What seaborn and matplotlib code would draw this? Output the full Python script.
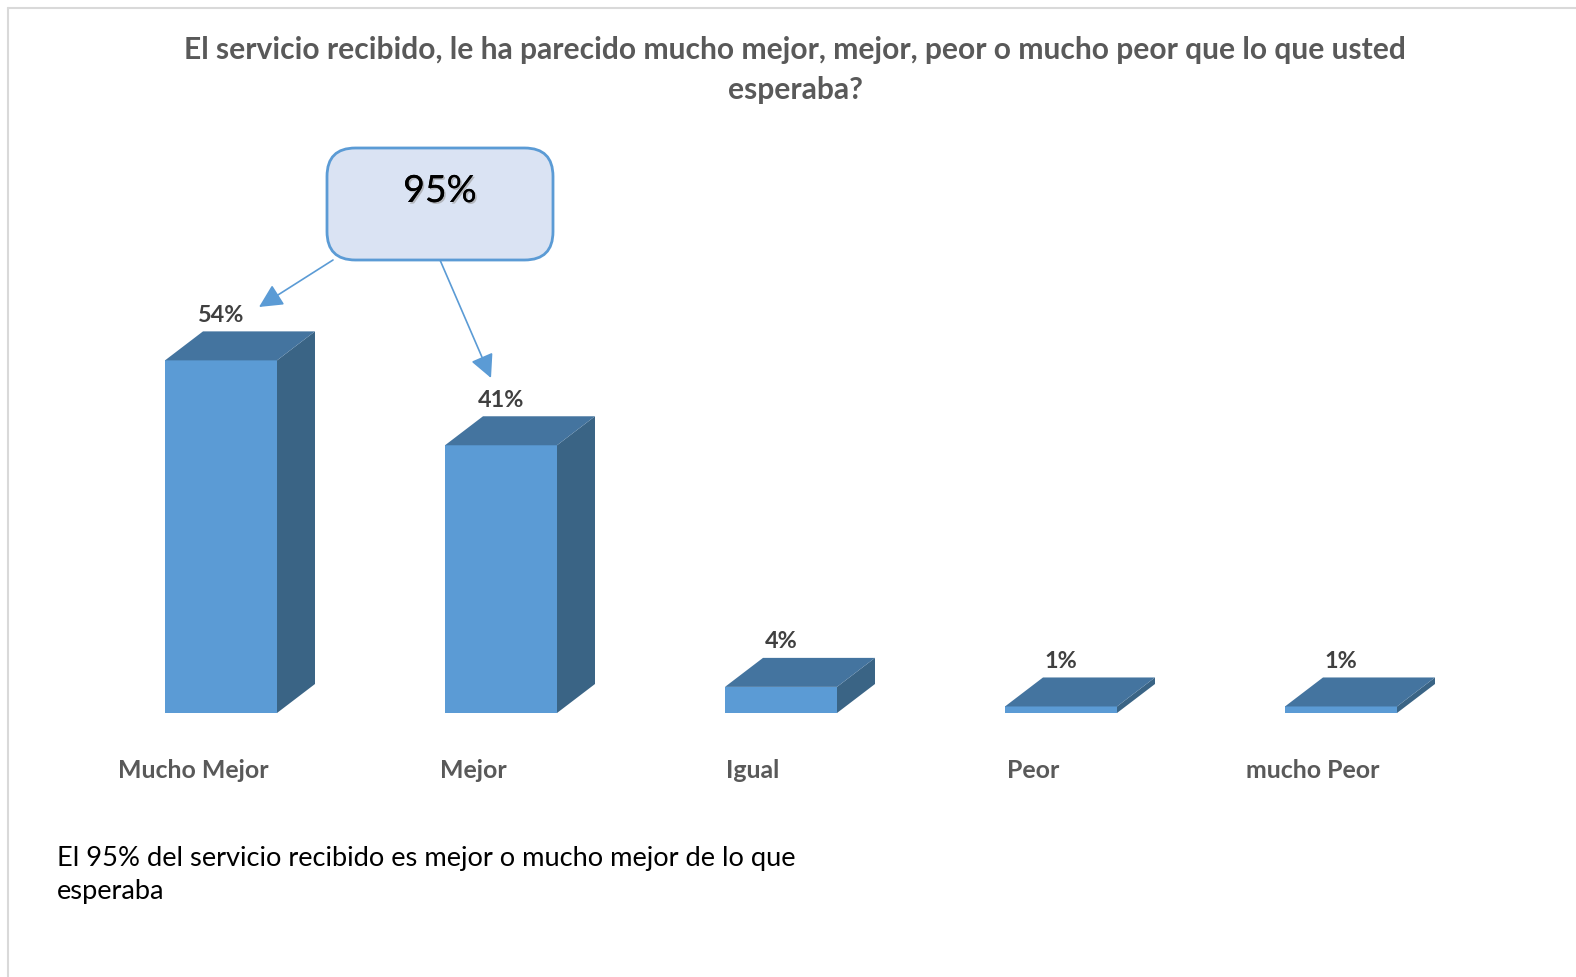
import matplotlib
matplotlib.use("Agg")
import matplotlib.pyplot as plt
import matplotlib.patheffects as pe
from matplotlib.patches import Polygon, FancyBboxPatch, FancyArrowPatch
from matplotlib.lines import Line2D
import seaborn as sns
import pandas as pd

# Survey answers and their shares (%)
categories = ["Mucho Mejor", "Mejor", "Igual", "Peor", "mucho Peor"]
values = [54, 41, 4, 1, 1]
value_labels = ["54%", "41%", "4%", "1%", "1%"]
title_text = ("El servicio recibido, le ha parecido mucho mejor, mejor, peor o mucho peor que lo que usted\n"
              "esperaba?")
callout_text = "95%"
note_text = "El 95% del servicio recibido es mejor o mucho mejor de lo que\nesperaba"

FRONT = "#5B9BD5"
TOP = "#44749F"
SIDE = "#3A6485"
LABEL_GRAY = "#595959"
VALUE_GRAY = "#404040"

sns.set_theme(style="white")
plt.rcParams["font.family"] = ["Lato", "DejaVu Sans"]

W, H = 1576, 978
fig = plt.figure(figsize=(W / 100, H / 100), dpi=100)
fig.patch.set_facecolor("white")

# Axes placement in pixels: category spacing 280 px, 1% = 6.53 px
x_left_px, x_right_px = 81, 1481
base_px, top_px = 714, 714 - 60 * 6.53
ax = fig.add_axes([x_left_px / W, 1 - base_px / H,
                   (x_right_px - x_left_px) / W, (base_px - top_px) / H])

df = pd.DataFrame({"categoria": categories, "pct": values})
sns.barplot(data=df, x="categoria", y="pct", color=FRONT, saturation=1,
            width=0.4, ax=ax, zorder=3)
ax.set_xlim(-0.5, 4.5)
ax.set_ylim(0, 60)
ax.axis("off")

# depth of the 3-D boxes in data units
px_per_x = (x_right_px - x_left_px) / 5.0
px_per_y = (base_px - top_px) / 60.0
dx = 38 / px_per_x
dy = 29 / px_per_y

for bar, lab in zip(ax.patches, value_labels):
    x0 = bar.get_x()
    w = bar.get_width()
    h = bar.get_height()
    bar.set_edgecolor("none")
    top = Polygon([(x0, h), (x0 + w, h), (x0 + w + dx, h + dy), (x0 + dx, h + dy)],
                  closed=True, facecolor=TOP, edgecolor="none", zorder=3)
    side = Polygon([(x0 + w, 0), (x0 + w + dx, dy), (x0 + w + dx, h + dy), (x0 + w, h)],
                   closed=True, facecolor=SIDE, edgecolor="none", zorder=3)
    ax.add_patch(side)
    ax.add_patch(top)
    ax.text(x0 + w / 2, h + dy + 1.0, lab, ha="center", va="bottom",
            fontsize=16.8, fontweight="bold", color=VALUE_GRAY, zorder=4)

# category labels under the boxes
for i, cat in enumerate(categories):
    ax.text(i - 28 / px_per_x, -57 / px_per_y, cat, ha="center", va="center",
            fontsize=17.9, fontweight="bold", color=LABEL_GRAY, clip_on=False)

# frame lines
fig.add_artist(Line2D([8 / W, 1.0], [1 - 9 / H, 1 - 9 / H], color="#D9D9D9", lw=1.5))
fig.add_artist(Line2D([8 / W, 8 / W], [0, 1 - 9 / H], color="#D9D9D9", lw=1.5))

# title
fig.text(795 / W, 1 - 70 / H, title_text, ha="center", va="center", fontsize=21.6,
         fontweight="bold", color=LABEL_GRAY, linespacing=1.5)

# callout box
bx0, by0, bx1, by1 = 327, 149, 553, 261
box = FancyBboxPatch((bx0 / W, 1 - by1 / H), (bx1 - bx0) / W, (by1 - by0) / H,
                     boxstyle="round,pad=0,rounding_size=0.018",
                     transform=fig.transFigure, facecolor="#DAE3F3",
                     edgecolor=FRONT, lw=2, mutation_aspect=W / H)
fig.add_artist(box)
fig.text(440 / W, 1 - 192 / H, callout_text, ha="center", va="center", fontsize=27,
         color="black",
         path_effects=[pe.withSimplePatchShadow(offset=(1.2, -1.2), shadow_rgbFace="#999999", alpha=0.6),
                       pe.Normal()])

# arrows from the callout to the two top bars
for (sx, sy), (ex, ey) in [((333, 261), (259, 308)), ((440, 261), (491, 379))]:
    arr = FancyArrowPatch((sx / W, 1 - sy / H), (ex / W, 1 - ey / H),
                          transform=fig.transFigure, arrowstyle="-|>,head_length=9,head_width=4.5",
                          color=FRONT, lw=1.2, mutation_scale=1.6, shrinkA=0, shrinkB=0)
    fig.add_artist(arr)

# bottom note
fig.text(57 / W, 1 - 875 / H, note_text, ha="left", va="center", fontsize=19.6,
         color="black", linespacing=1.4)

fig.savefig("out.png", dpi=100)
